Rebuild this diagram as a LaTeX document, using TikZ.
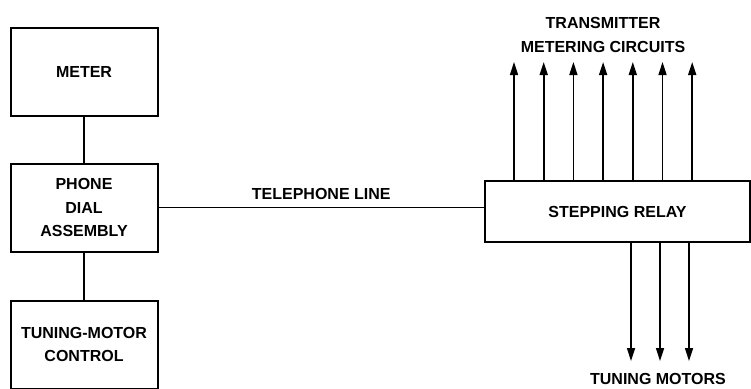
\documentclass[tikz,border=0pt]{standalone}
\usepackage{fontspec}
\setmainfont{Liberation Sans}
\usetikzlibrary{arrows.meta,positioning,calc}

\begin{document}
\begin{tikzpicture}[x=1pt, y=-1pt,
  font=\fontsize{16}{23.5}\selectfont\bfseries,
  block/.style={draw, line width=2pt, align=center,
    minimum width=147pt, minimum height=88pt, inner sep=2pt},
  wire/.style={line width=1.6pt},
  sig/.style={line width=1.6pt, -{Triangle[length=13pt, width=8pt]}}
]
\useasboundingbox (0,0) rectangle (751,388);
\node[block] (meter) at (84,71.5) {METER};
\node[block, below=46pt of meter] (dial) {PHONE\\DIAL\\ASSEMBLY};
\node[block, below=47pt of dial] (tuning) {TUNING-MOTOR\\CONTROL};
\node[block, minimum width=265pt, minimum height=61pt] (relay) at (617.5,211.5)
  {STEPPING RELAY};
\draw[wire] (meter) -- (dial);
\draw[wire] (dial) -- (tuning);
\draw[wire] (dial.east) -- node[above=4pt] (line) {TELEPHONE LINE}
  (dial.east -| relay.west);
% outputs of the relay
\foreach \k in {0,...,6}
  \draw[sig] ($(relay.north west)+(30+29.7*\k,0)$) -- ++(0,-118);
\foreach \k in {0,1,2}
  \draw[sig] ($(relay.south west)+(147+29*\k,0)$) -- ++(0,118);
\node[align=center] (metering) at (603,35) {TRANSMITTER\\METERING CIRCUITS};
\node (motors) at (658,379) {TUNING MOTORS};
\end{tikzpicture}
\end{document}
